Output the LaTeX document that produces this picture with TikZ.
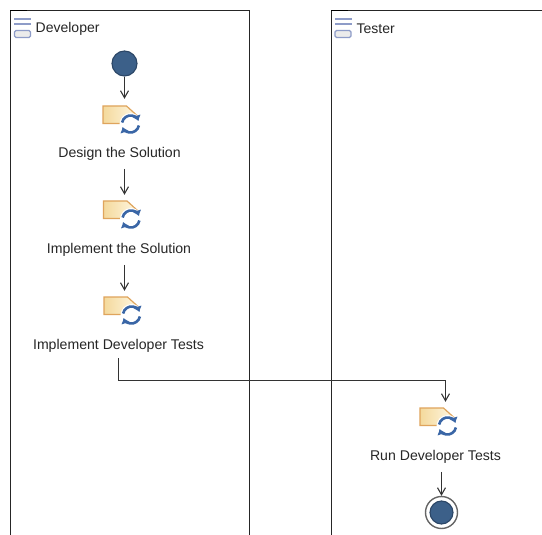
\documentclass[tikz,border=0pt]{standalone}
\usepackage{fontspec}
\setmainfont{Liberation Sans}
\usetikzlibrary{arrows.meta}
\definecolor{bluefill}{HTML}{3C6089}
\definecolor{blueedge}{HTML}{2B4666}
\definecolor{iconedge}{HTML}{DFA45C}
\definecolor{iconleft}{HTML}{F4D99C}
\definecolor{iconright}{HTML}{FFF8E4}
\definecolor{cyclecol}{HTML}{3A66A6}
\definecolor{barcol}{HTML}{8E9CC8}
\tikzset{
  lane/.style={draw=black!85,line width=1.1pt},
  lanelabel/.style={anchor=west,inner sep=0pt,font=\fontsize{14}{16}\selectfont,text=black!85},
  tasklabel/.style={inner sep=1pt,font=\fontsize{14.1}{16}\selectfont,text=black!85},
  taskicon/.style={minimum width=42pt,minimum height=26pt,inner sep=0pt},
  flow/.style={draw=black!80,line width=1.1pt,-{Straight Barb[length=7pt,width=8pt,line width=1.1pt]}},
  startnode/.style={circle,draw=blueedge,fill=bluefill,line width=1.1pt,minimum size=25pt,inner sep=0pt},
  endnode/.style={circle,draw=blueedge,fill=bluefill,line width=1.1pt,minimum size=23pt,inner sep=0pt},
  endring/.style={circle,draw=black!60,line width=1.4pt,minimum size=32pt,inner sep=0pt},
}
% task glyph, centred on a taskicon node
\newcommand{\taskglyph}[1]{
  \begin{scope}[shift={(#1.center)}]
    \draw[iconedge,line width=1.2pt,left color=iconleft,right color=iconright]
      (-20.5,-9) -- (3,-9) -- (14,1) -- (14,8.5) -- (-20.5,8.5) -- cycle;
    \fill[white] (7,9) circle (11);
    \draw[cyclecol,line width=2.6pt,-{Latex[length=5.5pt,width=9pt]}] (-1.37,7.52) arc[start angle=-170,end angle=-20,radius=8.5];
    \draw[cyclecol,line width=2.6pt,-{Latex[length=5.5pt,width=9pt]}] (15.37,10.48) arc[start angle=10,end angle=160,radius=8.5];
  \end{scope}
}
\newcommand{\lanebars}[1]{
  \begin{scope}[shift={(#1)}]
    \foreach \y in {0,5}
      \fill[barcol] (0,\y-1) rectangle (17,\y+1);
    \draw[barcol,line width=1.4pt,fill=black!8,rounded corners=1.5pt] (0.5,11) rectangle (16.5,18);
  \end{scope}
}
\begin{document}
\begin{tikzpicture}[x=1pt,y=-1pt]
  \useasboundingbox (0,0) rectangle (542,535);
  \fill[white] (0,0) rectangle (542,535);

  % lanes
  \draw[lane] (10.5,535) -- (10.5,10.5) -- (249.5,10.5) -- (249.5,535);
  \draw[lane] (331.5,535) -- (331.5,10.5) -- (542,10.5);
  \draw[black,line width=1.8pt] (10,10.5) -- (27,10.5);
  \draw[black,line width=1.8pt] (331,10.5) -- (348,10.5);
  \lanebars{14,19.5}
  \lanebars{334.5,19.5}
  \node[lanelabel] (developer) at (35.5,28.5) {Developer};
  \node[lanelabel] (tester) at (356.5,28.5) {Tester};

  % developer lane
  \node[startnode] (start) at (124.5,63.5) {};
  \node[taskicon] (design) at (123.5,115) {};
  \node[tasklabel] (designlabel) at (119.5,154) {Design the Solution};
  \node[taskicon] (implement) at (124,210) {};
  \node[tasklabel] (implementlabel) at (119,250) {Implement the Solution};
  \node[taskicon] (tests) at (124.5,306) {};
  \node[tasklabel] (testslabel) at (118.5,345.5) {Implement Developer Tests};

  % tester lane
  \node[taskicon] (run) at (440.5,417) {};
  \node[tasklabel] (runlabel) at (435.5,457) {Run Developer Tests};
  \node[endring] (endouter) at (441.5,512.5) {};
  \node[endnode] (finish) at (441.5,512.5) {};

  \taskglyph{design}
  \taskglyph{implement}
  \taskglyph{tests}
  \taskglyph{run}

  % connectors
  \draw[flow] (start) -- ([xshift=1pt,yshift=3pt]design.north);
  \draw[flow] ([xshift=5pt,yshift=-7pt]designlabel.south) -- ([xshift=0.5pt,yshift=2pt]implement.north);
  \draw[flow] ([xshift=5.5pt,yshift=-7pt]implementlabel.south) -- ([yshift=2pt]tests.north);
  \draw[flow] ([yshift=-5pt]testslabel.south) -- (testslabel.south |- 0,380.5) -- (445.5,380.5) -- ([xshift=5pt,yshift=2pt]run.north);
  \draw[flow] ([xshift=6pt,yshift=-7pt]runlabel.south) -- (endouter.north);
\end{tikzpicture}
\end{document}
